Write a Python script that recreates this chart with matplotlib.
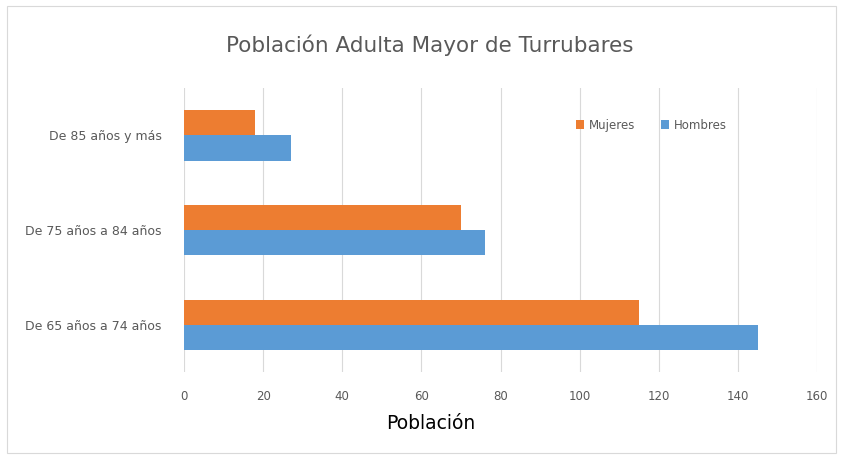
import matplotlib
matplotlib.use("Agg")
import matplotlib.pyplot as plt
from matplotlib.patches import Rectangle
import numpy as np

categories = ["De 65 años a 74 años", "De 75 años a 84 años", "De 85 años y más"]
mujeres = [115, 70, 18]
hombres = [145, 76, 27]
xticks = [0, 20, 40, 60, 80, 100, 120, 140, 160]

fig = plt.figure(figsize=(8.41, 4.59), dpi=100)
ax = fig.add_axes([0.2188, 0.1895, 0.7527, 0.6185])
fig.patches.append(Rectangle((0.008, 0.012), 0.986, 0.975, transform=fig.transFigure,
                             fill=False, edgecolor="#d9d9d9", linewidth=0.8))

y = np.arange(len(categories))
h = 0.265
ax.barh(y + h / 2, mujeres, height=h, color="#ED7D31", label="Mujeres", zorder=3)
ax.barh(y - h / 2, hombres, height=h, color="#5B9BD5", label="Hombres", zorder=3)

ax.set_xlim(0, 160)
ax.set_ylim(-0.5, 2.5)
ax.set_xticks(xticks)
ax.set_xticklabels([str(t) for t in xticks])
ax.set_yticks(y)
ax.set_yticklabels(categories)
ax.tick_params(axis="x", length=0, labelsize=8.5, colors="#595959", pad=13)
ax.tick_params(axis="y", length=0, labelsize=9, colors="#595959", pad=16)
ax.grid(axis="x", color="#d9d9d9", linewidth=0.8, zorder=0)
for s in ax.spines.values():
    s.set_visible(False)

fig.text(0.512, 0.078, "Población", ha="center", va="center", fontsize=13.5, color="#000000")
fig.text(0.511, 0.902, "Población Adulta Mayor de Turrubares", ha="center", va="center",
         fontsize=15.5, color="#595959")
ax.legend(loc="center", bbox_to_anchor=(0.738, 0.87), ncol=2, frameon=False,
          fontsize=8.5, labelcolor="#595959", handlelength=0.7, handleheight=0.7,
          columnspacing=2.2, handletextpad=0.4)

fig.savefig("out.png", dpi=100)
